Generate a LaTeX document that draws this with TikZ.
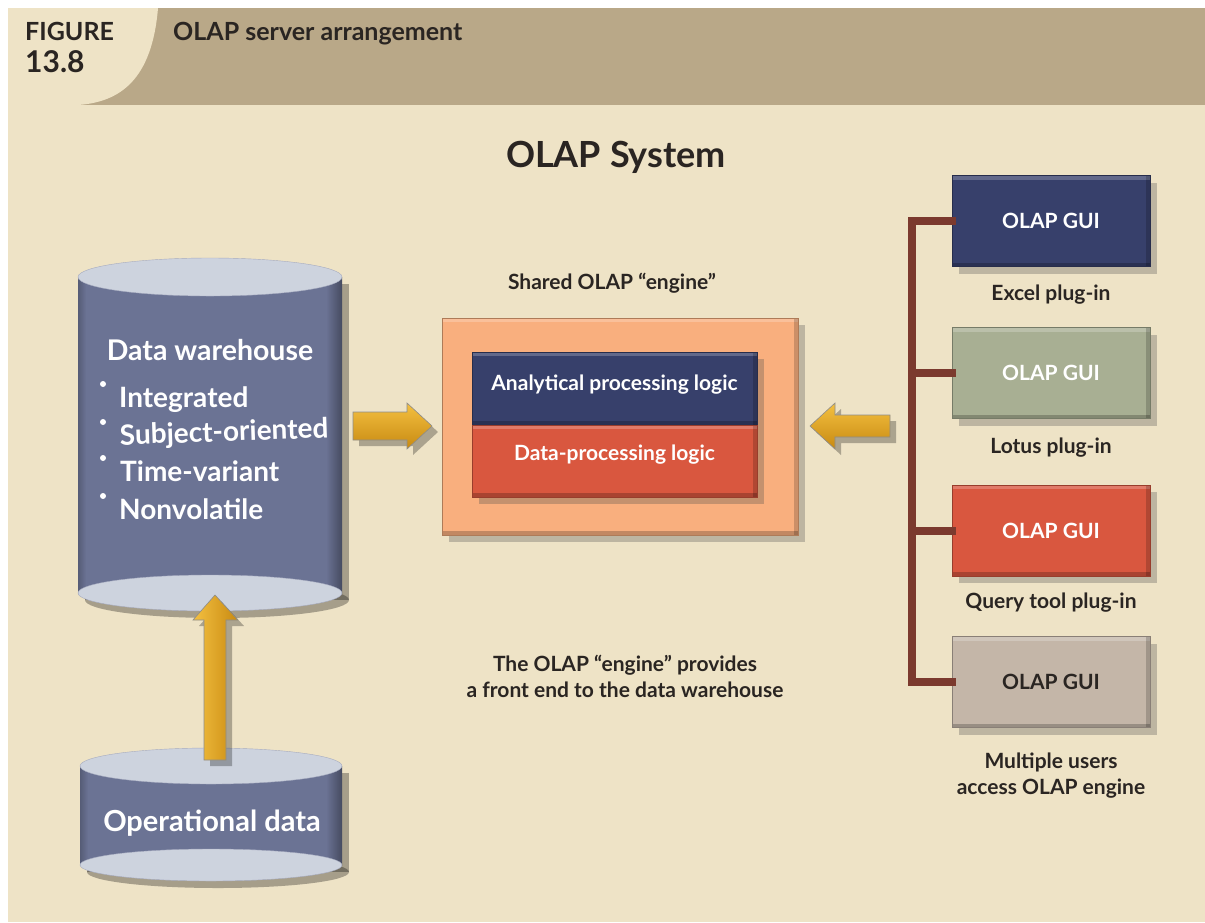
\documentclass[tikz,border=0pt]{standalone}
\usepackage{fontspec}
\setmainfont{Lato}
\usetikzlibrary{shadows}

\definecolor{cream}{HTML}{EEE3C6}
\definecolor{tan}{HTML}{B9A888}
\definecolor{slate}{HTML}{6B7394}
\definecolor{capface}{HTML}{CDD3DE}
\definecolor{peach}{HTML}{F9AF7E}
\definecolor{navy}{HTML}{37406B}
\definecolor{brick}{HTML}{D9573F}
\definecolor{sage}{HTML}{A8AF93}
\definecolor{taupe}{HTML}{C4B6A8}
\definecolor{busline}{HTML}{7B3A2E}
\definecolor{goldlight}{HTML}{F4C040}
\definecolor{golddark}{HTML}{C88A12}
\definecolor{ink}{HTML}{2A2522}

\tikzset{
  x=1pt, y=-1pt,
  fnt/.style={font=\fontsize{#1}{#1}\selectfont\bfseries},
  shadowed/.style={drop shadow={shadow xshift=7pt, shadow yshift=-7pt, opacity=0.3, fill=black!70}},
  panel/.style={shadowed, draw=#1!70!black, line width=1pt, fill=#1, inner sep=0pt,
    path picture={
      \fill[white, opacity=0.22] (path picture bounding box.north west) rectangle
        ([yshift=-4pt]path picture bounding box.north east);
      \fill[black, opacity=0.22] (path picture bounding box.south west) rectangle
        ([yshift=4pt]path picture bounding box.south east);
      \fill[black, opacity=0.18] (path picture bounding box.north east) rectangle
        ([xshift=-4pt]path picture bounding box.south east);
    }},
  guibox/.style={panel=#1, minimum width=198pt, minimum height=91pt,
    text=white, fnt=21},
  caption/.style={text=ink, fnt=21, align=center},
  goldfill/.style={top color=goldlight, bottom color=golddark, draw=black!45, line width=0.6pt},
  goldfillv/.style={left color=goldlight, right color=golddark, draw=black!45, line width=0.6pt},
  arrowshadow/.style={fill=black, opacity=0.28, shift={(6,6)}},
  bus/.style={draw=busline, line width=8pt, line join=miter, line cap=rect},
  dwtext/.style={text=white, fnt=#1, anchor=base west, inner sep=0pt},
}

\begin{document}
\begin{tikzpicture}
% page and header band
\fill[white] (0,0) rectangle (1205,922);
\fill[cream] (8,8) rectangle (1205,922);
\fill[tan] (8,8) rectangle (1205,105);
\fill[cream] (8,8) -- (158,8) .. controls (152,80) and (120,102) .. (78,105) -- (8,105) -- cycle;
\node[fnt=25, text=ink, anchor=base west, inner sep=0pt] (figword) at (25,40) {FIGURE};
\node[fnt=30, text=ink, anchor=base west, inner sep=0pt] (fignum) at (25,72) {13.8};
\node[fnt=25, text=ink, anchor=base west, inner sep=0pt] (figtitle) at (173,40) {OLAP server arrangement};

\node[fnt=36, text=ink] (systitle) at (616,157) {OLAP System};

% data warehouse cylinder
\fill[black, opacity=0.3] (85,284) rectangle (349,600);
\fill[black, opacity=0.3] (217,600) ellipse [x radius=132, y radius=18];
\fill[slate] (78,277) rectangle (342,593);
\shade[left color=slate, right color=slate!65!black] (326,277) rectangle (342,593);
\shade[right color=slate, left color=slate!80!black] (78,277) rectangle (86,593);
\fill[capface, draw=slate!60] (210,593) ellipse [x radius=132, y radius=18];
\fill[capface, draw=slate!60] (210,277) ellipse [x radius=132, y radius=19];
\node[text=white, fnt=28.5] (dwname) at (210,350) {Data warehouse};
\node[dwtext=28] (b1) at (119,407) {Integrated};
\node[dwtext=28, rotate=2] (b2) at (120,445) {Subject-oriented};
\node[dwtext=28] (b3) at (120,481) {Time-variant};
\node[dwtext=28] (b4) at (119,519) {Nonvolatile};
\foreach \yy in {384,422,458,496} \fill[white] (103,\yy) circle (3);

% operational data cylinder
\fill[black, opacity=0.3] (87,773) rectangle (349,872);
\fill[black, opacity=0.3] (218,872) ellipse [x radius=131, y radius=16];
\fill[slate] (80,766) rectangle (342,865);
\shade[left color=slate, right color=slate!65!black] (326,766) rectangle (342,865);
\shade[right color=slate, left color=slate!80!black] (80,766) rectangle (88,865);
\fill[capface, draw=slate!60] (211,865) ellipse [x radius=131, y radius=16];
\fill[capface, draw=slate!60] (211,766) ellipse [x radius=131, y radius=18];
\node[text=white, fnt=29] (opname) at (212,823) {Operational data};

% gold flow arrows: operational data -> warehouse, warehouse -> engine, clients -> engine
\fill[arrowshadow] (204,760) -- (204,620) -- (193,620) -- (215,595) -- (238,620) -- (226,620) -- (226,760) -- cycle;
\shade[goldfillv] (204,760) -- (204,620) -- (193,620) -- (215,595) -- (238,620) -- (226,620) -- (226,760) -- cycle;
\fill[arrowshadow] (353,412) -- (407,412) -- (407,403) -- (432,426) -- (407,449) -- (407,440) -- (353,440) -- cycle;
\shade[goldfill] (353,412) -- (407,412) -- (407,403) -- (432,426) -- (407,449) -- (407,440) -- (353,440) -- cycle;
\fill[arrowshadow] (890,415) -- (835,415) -- (835,403) -- (810,426) -- (835,449) -- (835,437) -- (890,437) -- cycle;
\shade[goldfill] (890,415) -- (835,415) -- (835,403) -- (810,426) -- (835,449) -- (835,437) -- (890,437) -- cycle;

% shared engine
\node[caption] (enginecap) at (612,283) {Shared OLAP “engine”};
\node[panel=peach, minimum width=356pt, minimum height=217pt] (engine) at (620,426.5) {};
\node[panel=navy, minimum width=285pt, minimum height=73pt] (apl) at (614.5,388.5) {};
\node[panel=brick, minimum width=285pt, minimum height=72pt] (dpl) at (614.5,461) {};
\node[text=white, fnt=21] (apltext) at (apl.center) [yshift=4pt] {Analytical processing logic};
\node[text=white, fnt=21] (dpltext) at (dpl.center) [yshift=6pt] {Data-processing logic};

\node[caption] (enginenote) at (625,676) {The OLAP “engine” provides\\[5pt]a front end to the data warehouse};

% GUI clients
\node[guibox=navy] (g1) at (1051,221) {OLAP GUI};
\node[guibox=sage] (g2) at (1051,373) {OLAP GUI};
\node[guibox=brick] (g3) at (1051,530.5) {OLAP GUI};
\node[guibox=taupe, text=ink] (g4) at (1051,682) {OLAP GUI};
\node[caption] (c1) at (1051,295) {Excel plug-in};
\node[caption] (c2) at (1051,448) {Lotus plug-in};
\node[caption] (c3) at (1051,603) {Query tool plug-in};
\node[caption] (c4) at (1051,776) {Multiple users\\[5pt]access OLAP engine};

% connecting bus
\coordinate (bus1) at (912,221);
\coordinate (bus2) at (912,373);
\coordinate (bus3) at (912,530.5);
\coordinate (bus4) at (912,682);
\draw[bus] (g1.west) -- (bus1) -- (bus4) -- (g4.west);
\draw[bus] (bus2) -- (g2.west);
\draw[bus] (bus3) -- (g3.west);
\end{tikzpicture}
\end{document}
